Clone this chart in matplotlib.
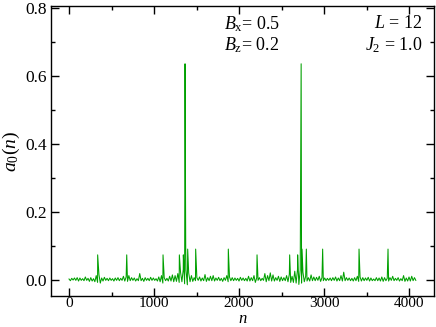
import numpy as np
import matplotlib
matplotlib.use("Agg")
import matplotlib.pyplot as plt
from matplotlib.ticker import MultipleLocator

# ---- data ----
noise_step = 16
noise_vals = [
    0.002,-0.003,0.004,-0.001,0.005,-0.002,0.006,-0.004,0.005,-0.002,0.003,-0.003,0.008,-0.002,0.004,-0.005,
    0.006,-0.004,0.003,-0.006,0.012,-0.008,0.015,-0.010,0.005,-0.004,0.007,-0.002,0.004,-0.003,0.005,-0.002,
    0.003,-0.004,0.005,-0.002,0.006,-0.003,0.004,-0.002,0.010,-0.004,0.008,-0.005,0.012,-0.003,0.006,-0.002,
    0.005,-0.004,0.003,-0.003,0.018,-0.003,0.004,-0.005,0.006,-0.002,0.004,-0.003,0.007,-0.002,0.005,-0.002,
    0.003,-0.004,0.008,-0.006,0.012,-0.010,0.006,-0.003,0.004,-0.004,0.010,-0.004,0.014,-0.006,0.012,-0.005,
    0.018,-0.008,0.022,-0.006,0.030,-0.012,0.028,-0.015,0.020,-0.006,0.012,-0.005,0.006,-0.003,0.006,-0.002,
    0.008,-0.004,0.005,-0.003,0.015,-0.005,0.006,-0.003,0.010,-0.003,0.012,-0.004,0.005,-0.002,0.007,-0.003,
    0.004,-0.005,0.006,-0.002,0.012,-0.006,0.008,-0.003,0.006,-0.003,0.005,-0.002,0.004,-0.004,0.007,-0.002,
    0.005,-0.003,0.004,-0.004,0.010,-0.004,0.006,-0.003,0.012,-0.008,0.005,-0.002,0.006,-0.003,0.004,-0.002,
    0.018,-0.006,0.012,-0.003,0.020,-0.004,0.014,-0.004,0.006,-0.002,0.010,-0.005,0.008,-0.003,0.006,-0.003,
    0.012,-0.006,0.016,-0.008,0.010,-0.008,0.025,-0.010,0.030,-0.014,0.028,-0.010,0.022,-0.006,0.010,-0.004,
    0.006,-0.004,0.014,-0.003,0.008,-0.003,0.007,-0.002,0.010,-0.005,0.006,-0.003,0.005,-0.003,0.004,-0.002,
    0.005,-0.003,0.006,-0.002,0.008,-0.004,0.005,-0.003,0.012,-0.004,0.022,-0.003,0.006,-0.002,0.005,-0.003,
    0.004,-0.004,0.006,-0.003,0.010,-0.005,0.008,-0.004,0.006,-0.003,0.005,-0.002,0.007,-0.004,0.005,-0.003,
    0.002,-0.003,0.006,-0.003,0.005,-0.004,0.008,-0.005,0.006,-0.003,0.004,-0.004,0.006,-0.002,0.010,-0.003,
    0.004,-0.002,0.006,-0.004,0.003,-0.003,0.012,-0.005,0.005,-0.004,0.008,-0.004,0.010,-0.003,0.006,-0.002,
]
spike_n = [337, 679, 1106, 1298, 1345, 1365, 1373, 1396, 1490, 1874, 2212,
           2596, 2690, 2731, 2741, 2792, 2984, 3412, 3753]
spike_a = [0.073, 0.073, 0.073, 0.073, 0.073, 0.635, 0.09, 0.09, 0.09, 0.09, 0.073,
           0.073, 0.073, 0.635, 0.09, 0.09, 0.09, 0.09, 0.09]

xticks = [0, 1000, 2000, 3000, 4000]
yticks = [0.0, 0.2, 0.4, 0.6, 0.8]

# ---- assemble series ----
noise_n = np.arange(len(noise_vals)) * noise_step
n_all = np.concatenate([noise_n, np.array(spike_n)])
a_all = np.concatenate([np.array(noise_vals), np.array(spike_a)])
order = np.argsort(n_all, kind="stable")
n_all = n_all[order]
a_all = a_all[order]

plt.rcParams['font.family'] = ['Liberation Serif', 'DejaVu Serif']
plt.rcParams['mathtext.fontset'] = 'custom'
plt.rcParams['mathtext.rm'] = 'Liberation Serif'
plt.rcParams['mathtext.it'] = 'Liberation Serif:italic'

fig = plt.figure(figsize=(4.36, 3.27), dpi=100)
ax = fig.add_axes([51/436, 1-296/327, (434-51)/436, (296-6)/327])

ax.plot(n_all, a_all, color='#00a000', lw=0.75)

ax.set_xlim(-212, 4294)
ax.set_ylim(-0.048, 0.805)
ax.set_xticks(xticks)
ax.set_yticks(yticks)
ax.set_yticklabels([f"{v:.1f}" for v in yticks])
ax.xaxis.set_minor_locator(MultipleLocator(500))
ax.yaxis.set_minor_locator(MultipleLocator(0.1))
ax.tick_params(which='both', direction='in', top=True, right=True, labelsize=12.5, width=1.0)
ax.tick_params(which='major', length=5.5, pad=3)
ax.tick_params(axis='x', which='major', labelsize=11, pad=0.5)
ax.tick_params(which='minor', length=3)
for s in ax.spines.values():
    s.set_linewidth(1.0)

fig.text(243/436, 4/327, r'$n$', fontsize=12, ha='center', va='baseline')
ax.set_ylabel(r'$a_0(n)$', fontsize=14, labelpad=2)

ax.text(0.452, 0.97, r'$B_{\rm x}$= 0.5', transform=ax.transAxes, fontsize=13, va='top', ha='left')
ax.text(0.452, 0.90, r'$B_{\rm z}$= 0.2', transform=ax.transAxes, fontsize=13, va='top', ha='left')
ax.text(0.97, 0.97, r'$L$ = 12', transform=ax.transAxes, fontsize=13, va='top', ha='right')
ax.text(0.97, 0.90, r'$J_2$ = 1.0', transform=ax.transAxes, fontsize=13, va='top', ha='right')

fig.savefig('out.png', dpi=100)
